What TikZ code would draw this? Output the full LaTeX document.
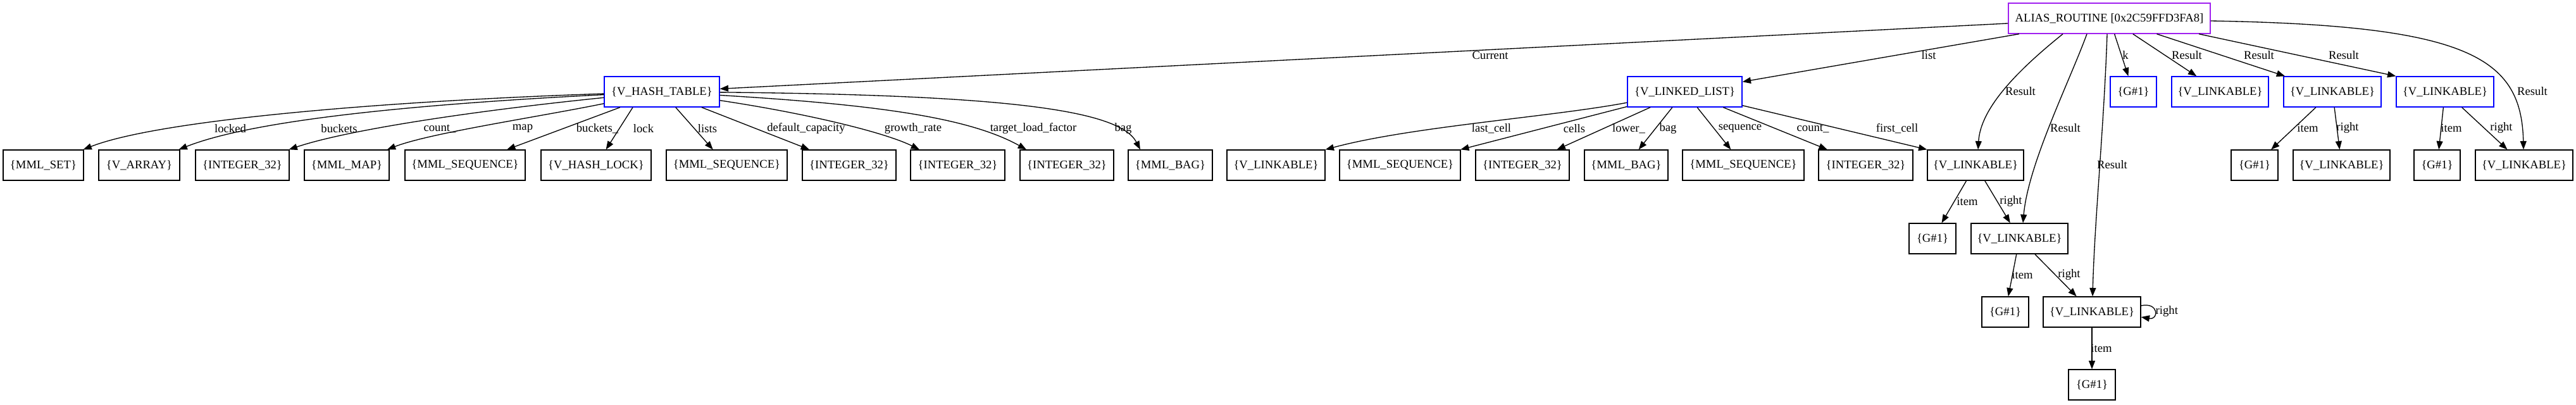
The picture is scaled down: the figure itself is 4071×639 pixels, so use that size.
\documentclass[tikz,border=0pt]{standalone}
\usepackage{fontspec}
\setmainfont{Liberation Serif}
\usetikzlibrary{arrows.meta,calc}
\definecolor{aliaspurple}{HTML}{A020F0}
\tikzset{
  box/.style={draw, rectangle, inner sep=0pt, minimum height=36pt, line width=1pt, font=\fontsize{14}{16}\selectfont},
  bluebox/.style={box, draw=blue},
  purplebox/.style={box, draw=aliaspurple},
  e/.style={draw, line width=1pt, -{Triangle[length=10pt,width=7.5pt]}},
  lbl/.style={font=\fontsize{14}{16}\selectfont, inner sep=0pt},
}
\newcommand\mkbox[6]{\node[#1, minimum width={(#4-#3)*0.75pt}] (#2) at ({(#3+#4)/2},#5) {#6};}
\begin{document}
\begin{tikzpicture}[x=0.75pt,y=-0.75pt]
\useasboundingbox (0,0) rectangle (4071,639);
% row 1
\mkbox{purplebox}{alias}{3174}{3493}{29}{ALIAS\_ROUTINE [0x2C59FFD3FA8]}
% row 2
\mkbox{bluebox}{ht}{955}{1137}{145}{\{V\_HASH\_TABLE\}}
\mkbox{bluebox}{ll}{2572}{2753}{145}{\{V\_LINKED\_LIST\}}
\mkbox{bluebox}{g1}{3335}{3408}{145}{\{G\#1\}}
\mkbox{bluebox}{vb1}{3432}{3585}{145}{\{V\_LINKABLE\}}
\mkbox{bluebox}{vb2}{3609}{3763}{145}{\{V\_LINKABLE\}}
\mkbox{bluebox}{vb3}{3787}{3941}{145}{\{V\_LINKABLE\}}
% row 3
\mkbox{box}{h1}{5}{132}{261}{\{MML\_SET\}}
\mkbox{box}{h2}{156}{284}{261}{\{V\_ARRAY\}}
\mkbox{box}{h3}{309}{457}{261}{\{INTEGER\_32\}}
\mkbox{box}{h4}{481}{615}{261}{\{MML\_MAP\}}
\mkbox{box}{h5}{640}{830}{261}{\{MML\_SEQUENCE\}}
\mkbox{box}{h6}{855}{1029}{261}{\{V\_HASH\_LOCK\}}
\mkbox{box}{h7}{1053}{1244}{261}{\{MML\_SEQUENCE\}}
\mkbox{box}{h8}{1268}{1416}{261}{\{INTEGER\_32\}}
\mkbox{box}{h9}{1439}{1588}{261}{\{INTEGER\_32\}}
\mkbox{box}{h10}{1612}{1760}{261}{\{INTEGER\_32\}}
\mkbox{box}{h11}{1783}{1916}{261}{\{MML\_BAG\}}
\mkbox{box}{l1}{1939}{2094}{261}{\{V\_LINKABLE\}}
\mkbox{box}{l2}{2117}{2308}{261}{\{MML\_SEQUENCE\}}
\mkbox{box}{l3}{2332}{2480}{261}{\{INTEGER\_32\}}
\mkbox{box}{l4}{2504}{2636}{261}{\{MML\_BAG\}}
\mkbox{box}{l5}{2659}{2851}{261}{\{MML\_SEQUENCE\}}
\mkbox{box}{l6}{2874}{3023}{261}{\{INTEGER\_32\}}
\mkbox{box}{fc}{3046}{3198}{261}{\{V\_LINKABLE\}}
\mkbox{box}{g2}{3526}{3600}{261}{\{G\#1\}}
\mkbox{box}{v2}{3624}{3777}{261}{\{V\_LINKABLE\}}
\mkbox{box}{g3}{3815}{3888}{261}{\{G\#1\}}
\mkbox{box}{v3}{3912}{4066}{261}{\{V\_LINKABLE\}}
% row 4
\mkbox{box}{g4}{3017}{3091}{377}{\{G\#1\}}
\mkbox{box}{r1}{3115}{3268}{377}{\{V\_LINKABLE\}}
% row 5
\mkbox{box}{g5}{3132}{3206}{493}{\{G\#1\}}
\mkbox{box}{r2}{3229}{3383}{493}{\{V\_LINKABLE\}}
% row 6
\mkbox{box}{g6}{3269}{3343}{608}{\{G\#1\}}

% edges from ALIAS_ROUTINE
\draw[e] (alias) -- (ht) node[lbl] at (2355,87) {Current};
\draw[e] (alias) -- (ll) node[lbl] at (3048,87) {list};
\draw[e] ($(alias.south)+(-73.5,0)$) .. controls (3190,110) and (3130,170) .. ($(fc.north)+(4,0)$) node[lbl] at (3193,144) {Result};
\draw[e] ($(alias.south)+(-35.5,0)$) .. controls (3270,130) and (3205,260) .. ($(r1.north)+(5.5,0)$) node[lbl] at (3264,202) {Result};
\draw[e] ($(alias.south)+(-3.5,0)$) .. controls (3325,200) and (3310,350) .. ($(r2.north)+(1,0)$) node[lbl] at (3338,260) {Result};
\draw[e] (alias) -- (g1) node[lbl] at (3359,87) {k};
\draw[e] (alias) -- (vb1) node[lbl] at (3456,87) {Result};
\draw[e] (alias) -- (vb2) node[lbl] at (3570,87) {Result};
\draw[e] ($(alias.south)+(141.5,0)$) -- (vb3.north west) node[lbl] at (3704,87) {Result};
\draw[e] ($(alias.east)+(0,4)$) .. controls (3900,40) and (3985,90) .. ($(v3.north)+(-1,0)$) node[lbl] at (4002,144) {Result};

% edges from V_HASH_TABLE
\draw[e] (ht) .. controls (600,160) and (250,190) .. (h1) node[lbl] at (364,203) {locked};
\draw[e] (ht) .. controls (650,165) and (400,190) .. (h2) node[lbl] at (536,203) {buckets};
\draw[e] (ht) .. controls (750,175) and (550,205) .. (h3) node[lbl] at (695,203) {count\_};
\draw[e] (ht) .. controls (850,185) and (680,210) .. (h4) node[lbl] at (826,203) {map};
\draw[e] (ht) -- (h5) node[lbl] at (944,203) {buckets\_};
\draw[e] ($(ht.south)+(-46,0)$) -- (h6) node[lbl] at (1017,203) {lock};
\draw[e] (ht) -- (h7) node[lbl] at (1118,203) {lists};
\draw[e] (ht) -- (h8) node[lbl] at (1274,203) {default\_capacity};
\draw[e] (ht) .. controls (1280,180) and (1400,210) .. ($(h9.north)+(-60.5,0)$) node[lbl] at (1443,203) {growth\_rate};
\draw[e] (ht) .. controls (1380,165) and (1530,185) .. ($(h10.north)+(-64,0)$) node[lbl] at (1633,203) {target\_load\_factor};
\draw[e] (ht) .. controls (1600,150) and (1770,175) .. ($(h11.north)+(-47.5,0)$) node[lbl] at (1775,203) {bag};

% edges from V_LINKED_LIST
\draw[e] (ll) .. controls (2450,185) and (2230,200) .. (l1.north east) node[lbl] at (2357,203) {last\_cell};
\draw[e] (ll) -- (l2) node[lbl] at (2488,203) {cells};
\draw[e] (ll) -- (l3) node[lbl] at (2574,203) {lower\_};
\draw[e] (ll) -- (l4) node[lbl] at (2636,203) {bag};
\draw[e] (ll) -- (l5) node[lbl] at (2750,203) {sequence};
\draw[e] (ll) -- (l6) node[lbl] at (2865,203) {count\_};
\draw[e] (ll) -- (fc.north west) node[lbl] at (2998,203) {first\_cell};

% V_LINKABLE chains
\draw[e] (vb2) -- (g2) node[lbl] at (3647,202) {item};
\draw[e] (vb2) -- (v2) node[lbl] at (3710,202) {right};
\draw[e] (vb3) -- (g3) node[lbl] at (3874,202) {item};
\draw[e] (vb3) -- (v3) node[lbl] at (3953,202) {right};
\draw[e] (fc) -- (g4) node[lbl] at (3109,318) {item};
\draw[e] (fc) -- (r1) node[lbl] at (3178,318) {right};
\draw[e] (r1) -- (g5) node[lbl] at (3196,434) {item};
\draw[e] (r1) -- (r2) node[lbl] at (3270,434) {right};
\draw[e] ($(r2.east)+(0,-10)$) .. controls (3412,477) and (3412,506) .. ($(r2.east)+(0,8)$) node[lbl, anchor=west] at (3406,492) {right};
\draw[e] (r2) -- (g6) node[lbl] at (3321,550) {item};
\end{tikzpicture}
\end{document}
